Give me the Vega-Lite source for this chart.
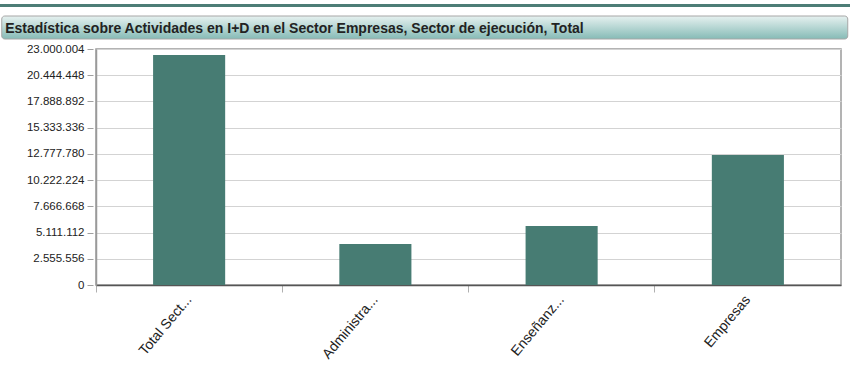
{
  "$schema": "https://vega.github.io/schema/vega-lite/v6.json",
  "background": "white",
  "padding": {"left": 0, "top": 4, "right": 0, "bottom": 0},
  "spacing": 3,
  "config": {
    "font": "Liberation Sans",
    "locale": {"number": {"decimal": ",", "thousands": ".", "grouping": [3], "currency": ["", " €"]}}
  },
  "datasets": {
    "gasto": [
      {"sector": "Total Sect...", "valor": 22415000},
      {"sector": "Administra...", "valor": 3996000},
      {"sector": "Enseñanz...", "valor": 5750000},
      {"sector": "Empresas", "valor": 12670000}
    ]
  },
  "vconcat": [
    {
      "spacing": 8,
      "center": true,
      "vconcat": [
        {
          "width": 850,
          "height": 3,
          "view": {"stroke": null},
          "data": {"values": [{"part": "line"}]},
          "mark": {"type": "rect", "color": "#4d7d76"},
          "encoding": {}
        },
        {
          "width": 846,
          "height": 23,
          "view": {"stroke": null},
          "title": {
            "text": "Estadística sobre Actividades en I+D en el Sector Empresas, Sector de ejecución, Total",
            "anchor": "start",
            "font": "Liberation Sans",
            "fontSize": 14,
            "fontWeight": "bold",
            "color": "#222222",
            "offset": 0,
            "dx": 4,
            "dy": 20,
            "zindex": 1
          },
          "data": {"values": [{"part": "header"}]},
          "mark": {
            "type": "rect",
            "stroke": "#a6a6a6",
            "strokeWidth": 1,
            "cornerRadius": 3,
            "fill": {
              "gradient": "linear",
              "x1": 0, "y1": 0, "x2": 0, "y2": 1,
              "stops": [
                {"offset": 0, "color": "#e6f1f0"},
                {"offset": 1, "color": "#86bbb6"}
              ]
            }
          },
          "encoding": {}
        }
      ]
    },
    {
      "spacing": 0,
      "hconcat": [
        {
          "width": 93,
          "height": 236,
          "view": {"stroke": null},
          "data": {"name": "gasto"},
          "mark": {"type": "tick", "opacity": 0},
          "encoding": {
            "y": {
              "field": "valor",
              "type": "quantitative",
              "scale": {"domain": [0, 23000004], "nice": false, "zero": true},
              "axis": {
                "title": null,
                "orient": "left",
                "offset": -93,
                "grid": false,
                "values": [0, 2555556, 5111112, 7666668, 10222224, 12777780, 15333336, 17888892, 20444448, 23000004],
                "format": ",d",
                "labelFontSize": 11.5,
                "labelColor": "#222222",
                "labelPadding": 3,
                "tickSize": 6,
                "tickColor": "#a0a0a0",
                "domain": false,
                "minExtent": 0,
                "maxExtent": 0
              }
            }
          }
        },
        {
          "width": 745,
          "height": 236,
          "view": {"stroke": "#9a9a9a", "strokeWidth": 1.5},
          "data": {"name": "gasto"},
          "mark": {"type": "bar", "color": "#477c73", "width": {"band": 0.387}},
          "encoding": {
            "x": {
              "field": "sector",
              "type": "nominal",
              "sort": null,
              "scale": {"paddingInner": 0, "paddingOuter": 0},
              "axis": {
                "title": null,
                "bandPosition": 0,
                "labelAngle": -50,
                "labelFontSize": 14,
                "labelColor": "#222222",
                "labelPadding": 5,
                "tickSize": 7,
                "tickColor": "#b0b0b0",
                "domainColor": "#555555",
                "domainWidth": 1.5,
                "grid": false
              }
            },
            "y": {
              "field": "valor",
              "type": "quantitative",
              "scale": {"domain": [0, 23000004], "nice": false, "zero": true},
              "axis": {
                "title": null,
                "values": [0, 2555556, 5111112, 7666668, 10222224, 12777780, 15333336, 17888892, 20444448, 23000004],
                "labels": false,
                "ticks": false,
                "domainColor": "#9a9a9a",
                "domainWidth": 1.5,
                "gridColor": "#d3d3d3",
                "gridWidth": 1,
                "minExtent": 0,
                "maxExtent": 0
              }
            }
          }
        }
      ]
    }
  ]
}
